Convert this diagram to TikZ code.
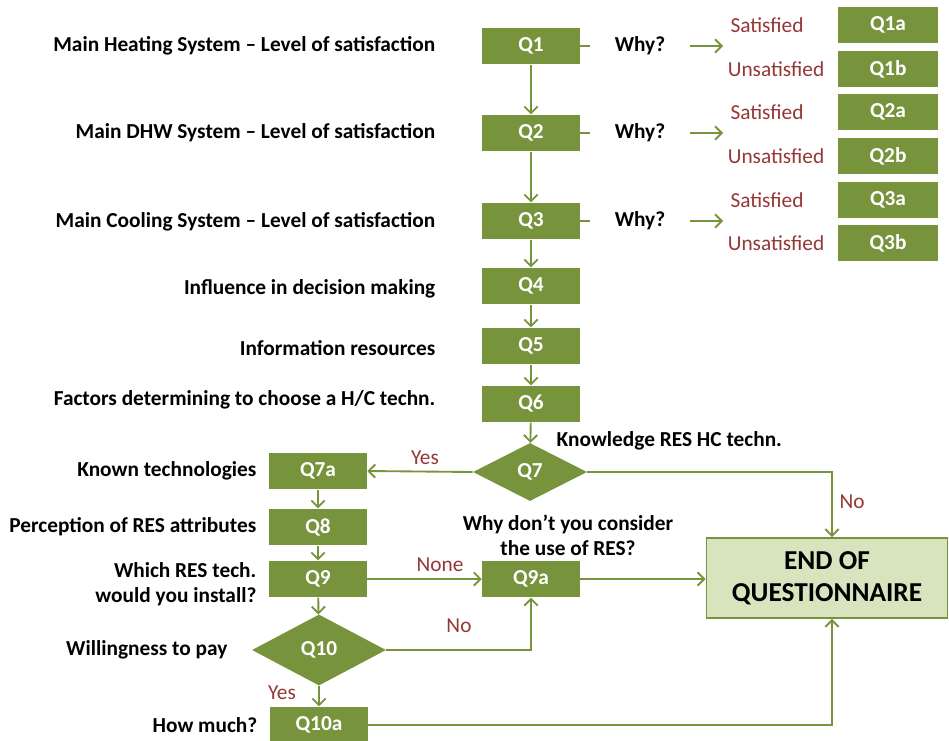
\documentclass[tikz,border=0pt]{standalone}
\usepackage{fontspec}
\setmainfont{Carlito}
\usepackage{xcolor}
\usepackage{tikz}
\usetikzlibrary{arrows.meta,shapes.geometric}
\definecolor{qgreen}{HTML}{77933C}
\definecolor{qlight}{HTML}{D7E4BD}
\definecolor{qred}{HTML}{953735}
\newcommand{\qfont}{\fontsize{16}{18.75}\selectfont}

\begin{document}
\begin{tikzpicture}[x=0.75pt,y=-0.75pt,font=\qfont\bfseries,
  qbox/.style={fill=qgreen,text=white,minimum width=73.5pt,minimum height=27.5pt,inner sep=0pt},
  qdiam/.style={diamond,fill=qgreen,text=white,inner sep=0pt},
  link/.style={qgreen,line width=1.4pt},
  flow/.style={link,-{Straight Barb[length=5pt,width=10pt]}},
  ans/.style={text=qred,font=\qfont\mdseries}]
  \useasboundingbox (0,0) rectangle (949,740);
  % main column
  \node[qbox] (q1) at (531,46) {Q1};
  \node[qbox] (q2) at (531,133) {Q2};
  \node[qbox] (q3) at (531,221) {Q3};
  \node[qbox] (q4) at (531,286) {Q4};
  \node[qbox] (q5) at (531,346) {Q5};
  \node[qbox] (q6) at (531,404) {Q6};
  \node[qdiam,minimum width=85.5pt,minimum height=43.5pt] (q7) at (530,472) {Q7};
  \node[qbox] (q7a) at (318,471) {Q7a};
  \node[qbox] (q8) at (318,527) {Q8};
  \node[qbox] (q9) at (318,579) {Q9};
  \node[qbox] (q9a) at (531,579) {Q9a};
  \node[qdiam,minimum width=100.5pt,minimum height=53.25pt] (q10) at (319,650) {Q10};
  \node[qbox] (q10a) at (319,725) {Q10a};
  \node[fill=qlight,draw=qgreen,line width=1.4pt,minimum width=180.75pt,minimum height=60pt,
    align=center,font=\fontsize{20.5}{24}\selectfont\bfseries] (endq) at (827,578) {END OF\\QUESTIONNAIRE};
  % sub-questions
  \node[qbox,minimum width=75pt] (q1a) at (888,25) {Q1a};
  \node[qbox,minimum width=75pt] (q1b) at (888,69) {Q1b};
  \node[qbox,minimum width=75pt] (q2a) at (888,112) {Q2a};
  \node[qbox,minimum width=75pt] (q2b) at (888,156) {Q2b};
  \node[qbox,minimum width=75pt] (q3a) at (888,200) {Q3a};
  \node[qbox,minimum width=75pt] (q3b) at (888,243) {Q3b};
  \node[ans] (s1) at (767,25) {Satisfied};
  \node[ans] (u1) at (776,69) {Unsatisfied};
  \node[ans] (s2) at (767,112) {Satisfied};
  \node[ans] (u2) at (776,156) {Unsatisfied};
  \node[ans] (s3) at (767,200) {Satisfied};
  \node[ans] (u3) at (776,243) {Unsatisfied};
  \node (why1) at (640,46) {Why?};
  \node (why2) at (640,133) {Why?};
  \node (why3) at (640,221) {Why?};
  \coordinate (w1) at (723,46);
  \coordinate (w2) at (723,133);
  \coordinate (w3) at (723,221);
  % question texts
  \node[anchor=east] (t1) at (440,46) {Main Heating System -- Level of satisfaction};
  \node[anchor=east] (t2) at (440,133) {Main DHW System -- Level of satisfaction};
  \node[anchor=east] (t3) at (440,222) {Main Cooling System -- Level of satisfaction};
  \node[anchor=east] (t4) at (440,289) {Influence in decision making};
  \node[anchor=east] (t5) at (440,348) {Information resources};
  \node[anchor=east] (t6) at (440,400) {Factors determining to choose a H/C techn.};
  \node[anchor=west] (t7) at (552,441) {Knowledge RES HC techn.};
  \node[anchor=east] (t7a) at (261,471) {Known technologies};
  \node[anchor=east] (t8) at (261,527) {Perception of RES attributes};
  \node[anchor=east,align=right] (t9) at (261,584) {Which RES tech.\\would you install?};
  \node[align=center] (t9a) at (568,535) {Why don't you consider\\the use of RES?};
  \node[anchor=east] (t10) at (232,650) {Willingness to pay};
  \node[anchor=east] (t10a) at (262,725) {How much?};
  % answers
  \node[ans] (lyes7) at (425,458) {Yes};
  \node[ans] (lno7) at (852,502) {No};
  \node[ans] (lnone) at (440,565) {None};
  \node[ans] (lno10) at (459,626) {No};
  \node[ans] (lyes10) at (282,693) {Yes};
  % connectors
  \draw[flow] (q1) -- (q2);
  \draw[flow] (q2) -- (q3);
  \draw[flow] (q3) -- (q4);
  \draw[flow] (q4) -- (q5);
  \draw[flow] (q5) -- (q6);
  \draw[flow] (q6) -- (q7);
  \draw[link,shorten >=15pt] (q1.east) -- (why1.west);
  \draw[link,shorten >=15pt] (q2.east) -- (why2.west);
  \draw[link,shorten >=15pt] (q3.east) -- (why3.west);
  \draw[flow,shorten <=15pt] (why1.east) -- (w1);
  \draw[flow,shorten <=15pt] (why2.east) -- (w2);
  \draw[flow,shorten <=15pt] (why3.east) -- (w3);
  \coordinate (nocorner) at (832,472);
  \draw[flow] (q7.west) -- (q7a.east);
  \draw[flow] (q7.east) -- (nocorner) -- (nocorner |- endq.north);
  \draw[flow] (q7a) -- (q8);
  \draw[flow] (q8) -- (q9);
  \draw[flow] (q9) -- (q10);
  \draw[flow] (q9) -- (q9a);
  \draw[flow] (q9a) -- (q9a -| endq.west);
  \draw[flow] (q10.east) -| (q9a.south);
  \draw[flow] (q10) -- (q10a);
  \draw[flow] (q10a.east) -| (nocorner |- endq.south);
\end{tikzpicture}
\end{document}
